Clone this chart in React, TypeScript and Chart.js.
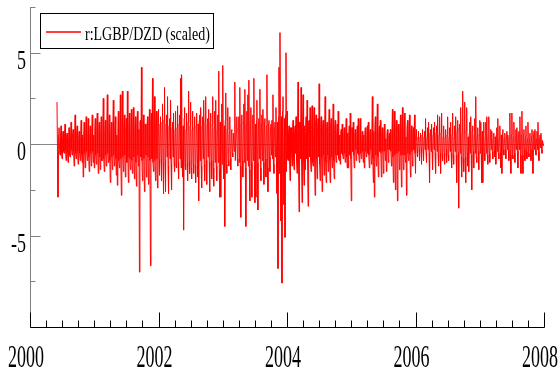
import React, { useEffect, useRef } from "react";
import { Chart, registerables } from "chart.js";

Chart.register(...registerables);

// ---- data (scaled returns) ----
const seriesLabel = "r:LGBP/DZD (scaled)";
const seriesStart = 2000.42;

// larger moves (one per ~6 days)
const r2000 = [2.3, -2.9, 0.9, -0.6, 1.0, -0.8, 0.7, -0.5, 1.1, -0.9, 0.6, -1.0, 0.9, -0.7, 1.2, -0.6, 0.8, -1.2, 1.6, -0.8, 1.0, -1.1, 0.7, -0.9, 1.3, -1.0, -1.8, 1.2, -1.3, 1.5, -0.9, 1.4, -1.5, 1.0, -1.2, 1.6, -1.0];
const r2001 = [-1.3, 1.4, -1.1, 1.7, -1.6, 1.2, -1.4, 1.5, -0.9, 2.5, -1.5, 1.3, -1.2, 2.7, -1.0, 1.6, -2.1, 1.2, -1.4, 2.4, -1.2, 1.5, -1.7, -2.25, 1.8, -1.3, 2.7, -2.8, 2.9, -1.5, 1.6, -1.8, 1.4, 2.9, -2.1, 1.7, -1.4, 1.9, -1.6, 2.0, -1.9, 1.5, -2.3, 1.8, -1.2, -7.0, 1.3, 4.2, -2.0, 1.6, -2.6, 1.1, -1.8, 1.5, -2.2, 1.9, -6.65, 1.7, 3.6, -1.5, 2.6, -2.0, 1.8, -2.4];
const r2002 = [1.9, -1.7, 1.5, -2.0, 2.2, -2.7, 3.1, -2.6, 1.6, 2.6, -2.7, 1.4, 2.4, -2.5, 1.2, 1.7, -1.5, 1.8, -1.3, 2.1, -1.9, 1.6, 3.6, 3.8, -1.8, -4.7, 2.0, -1.4, 1.7, -2.0, 2.9, -1.6, 2.3, -1.9, 1.8, -1.6, 1.5, -2.1, 1.7, -1.8, -3.1, 1.6, 2.0, -2.4, 1.5, 2.4, -2.0, 2.6, -2.2, 1.4, 1.9, -2.6, 1.7, -1.9, 2.6, -2.3, 1.8, 2.4, -2.0, 1.6, 4.0, -2.9, -2.9, 2.2];
const r2003 = [4.3, -1.9, -4.5, 2.8, -1.6, 2.0, -1.2, 1.5, -1.4, 0.8, -0.7, 0.6, 3.4, -0.9, 1.5, -1.2, 1.5, 3.1, -4.0, 1.6, -1.8, 2.2, 3.0, -4.5, 1.8, 2.7, 3.5, -3.1, 2.0, -2.9, 1.6, 3.6, -3.2, -2.9, 2.4, -3.6, 1.4, 3.0, -2.0, 1.6, 1.9, -2.2, 1.4, -1.8, 3.8, -2.6, 1.3, -1.5, 1.1, 1.3, 2.7, -1.6, 1.2, 2.0, -2.7, -6.8, 4.2, 6.1, -4.2, -7.6, 2.6, -3.3, -5.1, 5.0];
const r2004 = [1.8, -0.9, 1.0, -2.0, 0.9, -1.2, 1.3, -1.4, 1.0, 1.5, -1.6, 3.4, -3.7, 1.2, 3.1, -3.2, 2.7, -2.25, -1.4, 1.5, 2.4, -3.4, 1.3, 2.0, -1.5, 2.1, -1.2, 2.0, -2.8, 1.6, -1.9, 1.4, 3.3, -2.0, 1.5, -2.6, 1.3, -1.7, 2.6, -2.1, 1.2, -1.5, 1.9, -2.1, 1.4, -1.3, 2.2, -1.9, 1.3, -1.0, 1.1, 1.8, -0.9, -1.1, 0.8, 1.1, -0.8, 0.9, -1.0, 1.4, -1.3, -1.3, 1.0, 1.7];
const r2005 = [-3.1, 0.9, 1.2, -1.3, 0.8, -0.9, 1.0, 1.4, -1.0, 1.4, -0.8, 0.7, -1.0, -1.3, 0.9, -0.7, 1.0, 1.2, -1.3, 0.8, -1.1, 2.6, -2.1, -2.9, 1.5, -1.2, 2.2, -1.8, 1.0, 1.3, -1.8, 0.9, -1.6, 1.1, -0.9, -1.5, 0.8, -1.0, 0.6, 0.8, -1.2, 1.9, -2.1, 1.8, -2.5, 1.3, -3.1, 1.1, -1.4, 1.6, -2.35, 2.0, -1.4, 1.7, -1.0, -2.8, 1.3, -0.9, 1.6, -1.8, 1.0, -1.2, 0.9, 1.6];
const r2006 = [-1.6, 0.8, -0.7, 0.7, -0.9, 0.6, -1.1, 0.8, -0.9, 0.7, 1.4, -1.0, 0.9, 1.2, -2.1, 0.8, 1.1, -1.4, 0.9, 1.2, -1.6, 1.0, 1.6, -1.2, 1.5, -1.6, 1.7, -0.9, 1.0, -1.1, 0.8, -1.0, 1.5, -0.9, 0.9, 1.2, -1.3, 1.7, -1.1, 1.0, 1.5, -2.1, 1.3, -3.5, 1.1, 2.0, -1.8, 2.9, -1.5, 2.3, -2.1, 2.0, -1.2, -1.5, 1.2, 1.5, -2.5, 1.0, -1.3, 1.4, 2.6, -1.0, 0.9, -1.4];
const r2007 = [1.3, 1.2, -2.1, -2.1, 1.2, -0.9, 1.2, 1.5, -1.1, 1.5, -1.0, 0.8, 0.7, -0.8, 0.6, -0.7, -1.1, 0.9, 1.4, -0.8, 1.0, -1.3, -1.6, 0.8, -0.6, 0.6, -0.8, 0.7, 0.5, -0.9, 1.7, -1.6, 1.7, -0.8, 1.2, -1.0, 0.8, 0.9, -1.3, 0.7, 1.5, -1.6, 1.8, -1.6, 0.8, -0.9, 1.0, -0.8, 1.2, -0.7, 0.6, -0.9, 0.8, -1.6, 0.7, 0.8, -0.6, 0.7, 1.2, -0.9, 0.5, 0.6, -0.5, 0.2];

// smaller in-between moves (the dense core near zero)
const s2000 = [-0.4, 0.5, -0.3, 0.4, -0.5, 0.3, -0.4, 0.6, -0.3, 0.4, -0.5, 0.3, -0.6, 0.4, -0.3, 0.5, -0.4, 0.3, -0.5, 0.6, -0.4, 0.3, -0.5, 0.4, -0.6, 0.5, 0.4, -0.5, 0.6, -0.4, 0.5, -0.7, 0.4, -0.5, 0.6, -0.4, 0.5];
const s2001 = [0.7, -0.6, 0.9, -0.5, 0.8, -0.7, 0.6, -0.9, 0.5, -0.8, 0.7, -0.6, 1.0, -0.5, 0.8, -0.9, 0.6, -0.7, 0.8, -0.6, 0.9, -0.8, 0.5, 0.7, -0.9, 0.6, -0.8, 1.0, -0.7, 0.9, -0.6, 0.8, -1.0, -0.7, 0.9, -0.8, 0.6, -0.9, 1.1, -0.7, 0.8, -1.0, 0.9, -0.6, 0.8, 1.2, -0.7, -0.9, 1.0, -0.8, 1.1, -0.6, 0.9, -0.7, 1.0, -0.9, 1.2, -0.8, -1.0, 0.7, -0.9, 1.1, -0.8, 1.0];
const s2002 = [-0.9, 1.1, -0.8, 1.2, -1.0, 1.3, -0.9, 1.1, -0.7, -1.2, 1.0, -0.8, -1.1, 0.9, -0.7, -1.0, 0.8, -1.2, 0.9, -1.0, 1.1, -0.8, -1.3, -0.9, 1.0, 1.4, -1.1, 0.8, -1.0, 1.2, -0.9, 1.0, -1.3, 0.8, -1.1, 0.9, -1.2, 1.0, -0.8, 1.1, 1.3, -0.9, -1.2, 1.0, -0.8, -1.1, 1.2, -0.9, 1.1, -0.7, -1.0, 1.2, -0.9, 1.1, -1.3, 0.9, -1.0, -1.2, 0.8, -1.0, -1.4, 1.2, 1.0, -1.1];
const s2003 = [-1.2, 1.0, 1.3, -1.1, 0.8, -0.9, 0.6, -0.8, 0.7, -0.5, 0.6, -0.4, -0.9, 0.7, -0.8, 0.9, -1.0, -1.2, 1.1, -0.9, 1.2, -1.0, -1.3, 1.1, -0.9, -1.2, -1.4, 1.2, -1.0, 1.3, -0.9, -1.2, 1.1, 1.3, -1.0, 1.2, -0.8, -1.3, 1.1, -0.9, -1.0, 1.2, -0.8, 1.0, -1.3, 1.1, -0.7, 0.9, -0.6, -0.8, -1.1, 0.9, -0.7, -1.0, 1.2, 1.5, -1.6, -1.4, 1.5, 1.8, -1.3, 1.4, 1.6, -1.5];
const s2004 = [-0.8, 0.6, -0.7, 0.9, -0.5, 0.7, -0.8, 0.6, -0.5, -0.9, 0.8, -1.1, 1.2, -0.8, -1.0, 1.1, -0.9, 1.0, 0.7, -0.8, -1.0, 1.2, -0.7, -0.9, 0.8, -1.0, 0.6, -0.9, 1.1, -0.8, 0.9, -0.7, -1.1, 0.9, -0.7, 1.0, -0.6, 0.8, -1.0, 0.9, -0.6, 0.7, -0.9, 1.0, -0.7, 0.6, -0.9, 0.8, -0.6, 0.5, -0.6, -0.8, 0.5, 0.6, -0.5, -0.6, 0.4, -0.5, 0.6, -0.7, 0.6, 0.5, -0.6, -0.8];
const s2005 = [0.9, -0.4, -0.6, 0.5, -0.3, 0.4, -0.5, -0.6, 0.4, -0.5, 0.3, -0.4, 0.5, 0.6, -0.4, 0.3, -0.5, -0.6, 0.5, -0.3, 0.4, -0.8, 0.7, 0.9, -0.6, 0.5, -0.7, 0.6, -0.4, -0.5, 0.6, -0.4, 0.5, -0.4, 0.3, 0.5, -0.3, 0.4, -0.3, -0.4, 0.5, -0.7, 0.6, -0.6, 0.8, -0.5, 0.9, -0.4, 0.5, -0.6, 0.7, -0.6, 0.5, -0.6, 0.4, 0.8, -0.5, 0.4, -0.6, 0.5, -0.4, 0.5, -0.3, -0.5];
const s2006 = [0.5, -0.3, 0.4, -0.3, 0.4, -0.2, 0.5, -0.3, 0.4, -0.3, -0.5, 0.4, -0.3, -0.5, 0.6, -0.4, -0.4, 0.5, -0.3, -0.5, 0.6, -0.4, -0.6, 0.5, -0.5, 0.6, -0.6, 0.4, -0.5, 0.4, -0.3, 0.5, -0.6, 0.4, -0.4, -0.5, 0.5, -0.6, 0.4, -0.4, -0.6, 0.7, -0.5, 0.9, -0.5, -0.7, 0.6, -0.8, 0.6, -0.7, 0.7, -0.5, 0.4, 0.6, -0.5, -0.6, 0.7, -0.4, 0.5, -0.5, -0.7, 0.4, -0.4, 0.5];
const s2007 = [-0.5, -0.6, 0.7, 0.6, -0.5, 0.4, -0.5, -0.6, 0.4, -0.5, 0.4, -0.3, -0.4, 0.3, -0.3, 0.4, 0.5, -0.4, -0.5, 0.3, -0.4, 0.5, 0.6, -0.3, 0.3, -0.3, 0.4, -0.3, -0.3, 0.4, -0.6, 0.5, -0.6, 0.4, -0.5, 0.4, -0.3, -0.4, 0.5, -0.3, -0.6, 0.5, -0.6, 0.5, -0.3, 0.4, -0.4, 0.3, -0.5, 0.3, -0.3, 0.4, -0.3, 0.5, -0.3, -0.3, 0.3, -0.3, -0.4, 0.3, -0.2, -0.3, 0.2, -0.1];

const yearStarts = [2001, 2002, 2003, 2004, 2005, 2006, 2007];
const yearMain = [r2001, r2002, r2003, r2004, r2005, r2006, r2007];
const yearSmall = [s2001, s2002, s2003, s2004, s2005, s2006, s2007];

const xMin = 2000;
const xMax = 2008;
const xLabelTicks = [2000, 2002, 2004, 2006, 2008];
const yMin = -10;
const yMax = 7.5;
const yLabelTicks = [-5, 0, 5];

function pushYear(pts: { x: number; y: number }[], start: number, span: number, main: number[], small: number[]) {
  const step = span / main.length;
  main.forEach((v, i) => {
    pts.push({ x: start + i * step, y: v });
    if (small[i] !== undefined) pts.push({ x: start + (i + 0.5) * step, y: small[i] });
  });
}

function buildPoints() {
  const pts: { x: number; y: number }[] = [];
  pushYear(pts, seriesStart, 2001 - seriesStart, r2000, s2000);
  yearStarts.forEach((yr, k) => pushYear(pts, yr, 1, yearMain[k], yearSmall[k]));
  return pts;
}

const FONT = '"Liberation Serif", "Times New Roman", serif';

function tallText(ctx: CanvasRenderingContext2D, text: string, x: number, baseY: number, size: number, sy: number, align: CanvasTextAlign) {
  ctx.save();
  ctx.translate(x, baseY);
  ctx.scale(1, sy);
  ctx.font = `${size}px ${FONT}`;
  ctx.textAlign = align;
  ctx.textBaseline = "alphabetic";
  ctx.fillStyle = "#000";
  ctx.fillText(text, 0, 0);
  ctx.restore();
}

const axesPlugin = {
  id: "customAxes",
  beforeDatasetsDraw(chart: any) {
    const { ctx, scales } = chart;
    const xs = scales.x;
    const ys = scales.y;
    const y0 = Math.round(ys.getPixelForValue(0)) + 0.5;
    ctx.save();
    ctx.strokeStyle = "#8a8a8a";
    ctx.lineWidth = 1;
    ctx.beginPath();
    ctx.moveTo(xs.getPixelForValue(xMin), y0);
    ctx.lineTo(xs.getPixelForValue(xMax), y0);
    ctx.stroke();
    ctx.restore();
  },
  afterDraw(chart: any) {
    const { ctx, scales } = chart;
    const xs = scales.x;
    const ys = scales.y;
    const left = Math.round(xs.getPixelForValue(xMin)) + 0.5;
    const right = Math.round(xs.getPixelForValue(xMax)) + 0.5;
    const top = ys.getPixelForValue(yMax);
    const bottom = Math.round(ys.getPixelForValue(yMin)) + 0.5;
    ctx.save();
    ctx.lineWidth = 1;

    // y axis (gray)
    ctx.strokeStyle = "#808080";
    ctx.beginPath();
    ctx.moveTo(left, top);
    ctx.lineTo(left, bottom);
    for (let v = yMin; v <= yMax + 1e-9; v += 2.5) {
      const py = Math.round(ys.getPixelForValue(v)) + 0.5;
      const len = Math.abs(v % 5) < 1e-9 ? 10 : 5;
      ctx.moveTo(left, py);
      ctx.lineTo(left + len, py);
    }
    ctx.stroke();

    // x axis (black)
    ctx.strokeStyle = "#000";
    ctx.beginPath();
    ctx.moveTo(left, bottom);
    ctx.lineTo(right, bottom);
    for (let v = xMin; v <= xMax + 1e-9; v += 0.25) {
      const px = Math.round(xs.getPixelForValue(v)) + 0.5;
      const major = Math.abs((v - xMin) % 2) < 1e-9;
      ctx.moveTo(px, bottom);
      ctx.lineTo(px, bottom - (major ? 15 : 7));
    }
    ctx.stroke();

    // labels
    yLabelTicks.forEach((v) => {
      const py = ys.getPixelForValue(v);
      tallText(ctx, String(v), 26, py + 16, 18, 1.55, "right");
    });
    xLabelTicks.forEach((v) => {
      const px = xs.getPixelForValue(v);
      tallText(ctx, String(v), px - 4, 367, 18, 1.75, "center");
    });

    // legend
    ctx.fillStyle = "#fff";
    ctx.fillRect(40.5, 13.5, 173, 35);
    ctx.strokeStyle = "#000";
    ctx.strokeRect(40.5, 13.5, 173, 35);
    ctx.strokeStyle = "#ff0000";
    ctx.lineWidth = 1.5;
    ctx.beginPath();
    ctx.moveTo(46, 32);
    ctx.lineTo(81, 32);
    ctx.stroke();
    tallText(ctx, seriesLabel, 85, 40, 14, 1.4, "left");
    ctx.restore();
  },
};

export default function App() {
  const ref = useRef<HTMLCanvasElement | null>(null);
  useEffect(() => {
    if (!ref.current) return;
    const chart = new Chart(ref.current, {
      type: "line",
      data: {
        datasets: [
          {
            label: seriesLabel,
            data: buildPoints(),
            borderColor: "#ff0000",
            borderWidth: 1,
            pointRadius: 0,
            tension: 0,
            fill: false,
          },
        ],
      },
      options: {
        animation: false,
        responsive: false,
        devicePixelRatio: 1,
        layout: { padding: { left: 30, right: 16, top: 7, bottom: 49 } },
        plugins: { legend: { display: false }, tooltip: { enabled: false } },
        scales: {
          x: { type: "linear", min: xMin, max: xMax, display: false },
          y: { type: "linear", min: yMin, max: yMax, display: false },
        },
      },
      plugins: [axesPlugin],
    });
    return () => chart.destroy();
  }, []);
  return (
    <div style={{ position: "fixed", left: 0, top: 0, width: 560, height: 376, background: "#fff" }}>
      <canvas ref={ref} width={560} height={376} style={{ display: "block" }} />
    </div>
  );
}
